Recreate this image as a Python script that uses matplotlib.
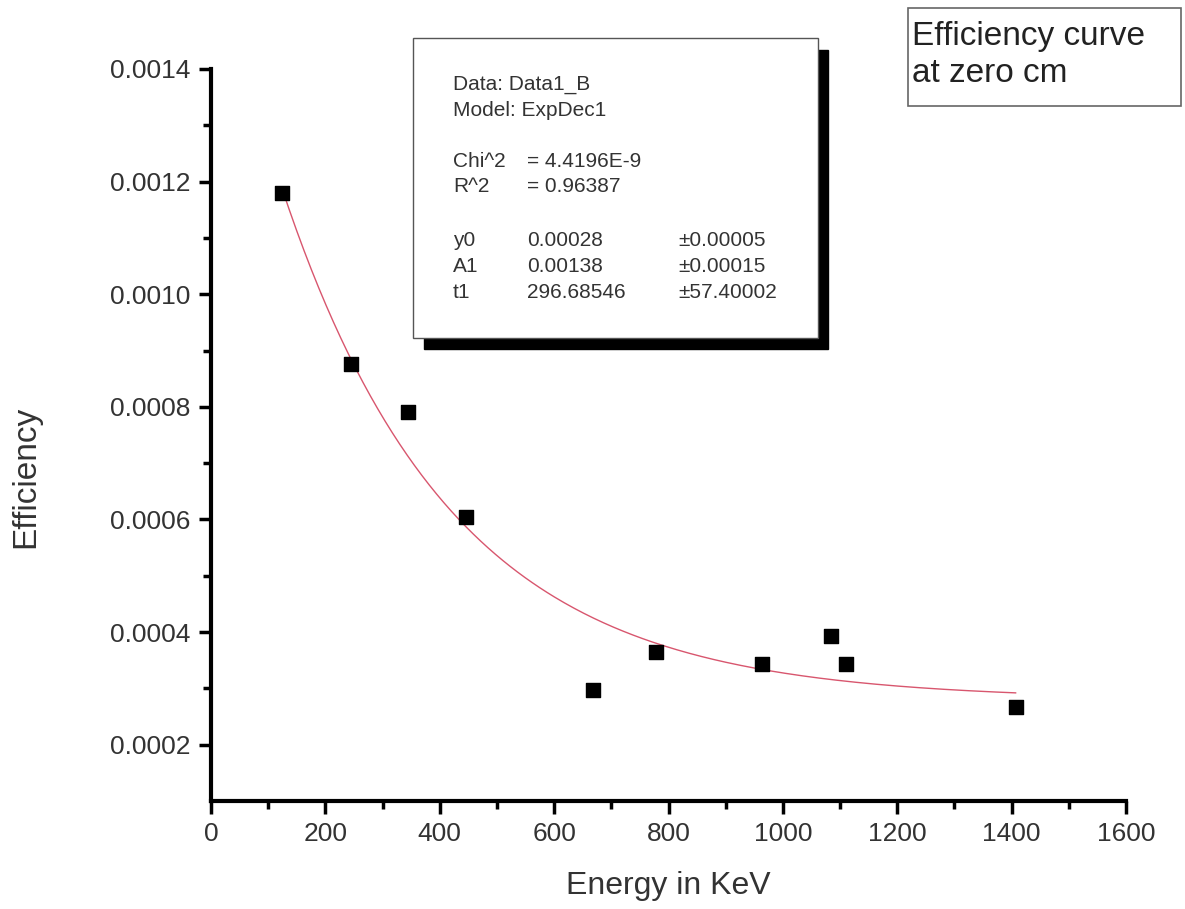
import matplotlib
matplotlib.use("Agg")
import matplotlib.pyplot as plt
from matplotlib.patches import Rectangle
import numpy as np

plt.rcParams['font.family'] = ['Liberation Sans', 'DejaVu Sans']

# measured points (energy in keV, efficiency)
energy = [124, 245, 344, 446, 668, 778, 963, 1084, 1110, 1407]
efficiency = [0.00118, 0.000876, 0.000791, 0.000604, 0.000297,
              0.000365, 0.000343, 0.000393, 0.000343, 0.000267]

# ExpDec1 fit parameters
y0 = 0.00028
A1 = 0.00138
t1 = 296.68546

fig = plt.figure(figsize=(11.85, 9.09), dpi=100)
W, H = 1185, 909
ax = fig.add_axes([211 / W, 1 - 801 / H, (1126 - 211) / W, (801 - 69) / H])

# fitted curve
xf = np.linspace(min(energy), max(energy), 300)
ax.plot(xf, y0 + A1 * np.exp(-xf / t1), color='#d8566e', lw=1.0, zorder=2)
ax.scatter(energy, efficiency, marker='s', s=110, color='black', zorder=3)

ax.set_xlim(0, 1600)
ax.set_ylim(0.0001, 0.0014)
ax.set_xticks(np.arange(0, 1601, 200))
ax.set_xticks(np.arange(100, 1600, 200), minor=True)
ax.set_yticks([0.0002, 0.0004, 0.0006, 0.0008, 0.0010, 0.0012, 0.0014])
ax.set_yticks([0.0003, 0.0005, 0.0007, 0.0009, 0.0011, 0.0013], minor=True)
ax.yaxis.set_major_formatter(matplotlib.ticker.FormatStrFormatter('%.4f'))

for s in ['top', 'right']:
    ax.spines[s].set_visible(False)
for s in ['left', 'bottom']:
    ax.spines[s].set_linewidth(3)
ax.tick_params(which='major', length=9, width=2.5, labelsize=19, pad=6,
               colors='black', labelcolor='#333333')
ax.tick_params(which='minor', length=6, width=2.5)

ax.set_xlabel('Energy in KeV', fontsize=23, color='#333333', labelpad=18)
ax.set_ylabel('Efficiency', fontsize=24, color='#333333')
ax.yaxis.set_label_coords(-0.185, 0.443)

# stats box with shadow
def fx(px):
    return px / W

def fy(py):
    return 1 - py / H

fig.patches.append(Rectangle((fx(424), fy(349)), fx(828) - fx(424), fy(50) - fy(349),
                             transform=fig.transFigure, facecolor='black',
                             edgecolor='black', zorder=5))
fig.patches.append(Rectangle((fx(413), fy(338)), fx(818) - fx(413), fy(38) - fy(338),
                             transform=fig.transFigure, facecolor='white',
                             edgecolor='#555555', lw=1, zorder=6))

stat_rows = [
    (85, ['Data: Data1_B']),
    (110, ['Model: ExpDec1']),
    (162, ['Chi^2', '= 4.4196E-9']),
    (186, ['R^2', '= 0.96387']),
    (240, ['y0', '0.00028', '\u00b10.00005']),
    (266, ['A1', '0.00138', '\u00b10.00015']),
    (292, ['t1', '296.68546', '\u00b157.40002']),
]
cols = [453, 527, 678]
for py, parts in stat_rows:
    for i, txt in enumerate(parts):
        fig.text(fx(cols[i]), fy(py), txt, fontsize=15, color='#333333',
                 va='center', ha='left', zorder=7)

# title box
fig.patches.append(Rectangle((fx(908), fy(106)), fx(1181) - fx(908), fy(8) - fy(106),
                             transform=fig.transFigure, facecolor='white',
                             edgecolor='#666666', lw=1.2, zorder=5))
fig.text(fx(912), fy(36), 'Efficiency curve', fontsize=24, color='#222222',
         va='center', ha='left', zorder=7)
fig.text(fx(912), fy(74), 'at zero cm', fontsize=24, color='#222222',
         va='center', ha='left', zorder=7)

fig.savefig('out.png', dpi=100)
